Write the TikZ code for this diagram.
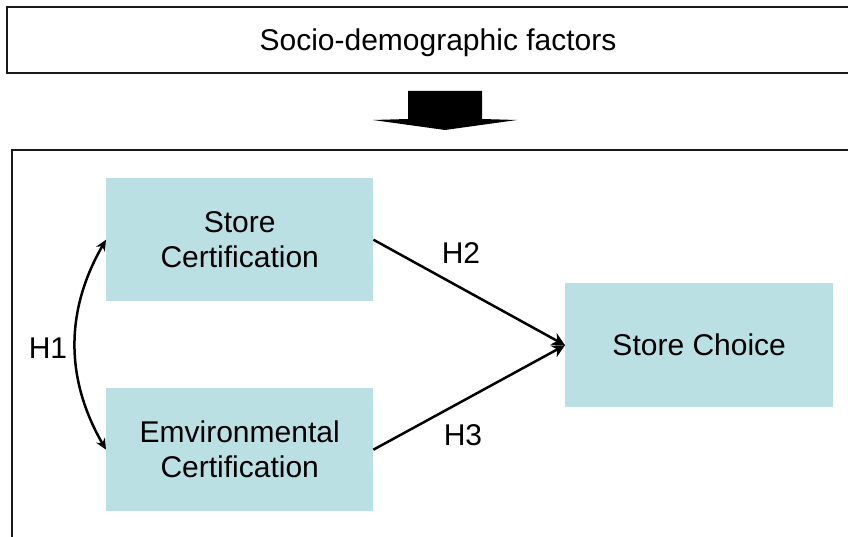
\documentclass[tikz,border=0pt]{standalone}
\usepackage{fontspec}
\setmainfont{Liberation Sans}
\usetikzlibrary{positioning,arrows.meta}
\definecolor{consc}{RGB}{187,224,227}
\tikzset{
  box/.style={draw=black!90, line width=2bp, inner sep=0pt, align=center, font=\fontsize{30bp}{36bp}\selectfont},
  cons/.style={fill=consc, inner sep=0pt, minimum width=267bp, minimum height=123bp, align=center, font=\fontsize{30bp}{35bp}\selectfont},
  flow/.style={-{Stealth[length=13bp, width=13bp]}, line width=2.5bp},
  both/.style={{Stealth[length=11bp, width=10bp]}-{Stealth[length=11bp, width=10bp]}, line width=2.5bp},
  hyp/.style={inner sep=0pt, font=\fontsize{30bp}{36bp}\selectfont}
}

\begin{document}
\begin{tikzpicture}[x=1bp, y=-1bp]
  \useasboundingbox (0,0) rectangle (848,537);

  \node[box, text depth=0pt, minimum width=862bp, minimum height=66bp, anchor=north west] (socio) at (6,6) {Socio-demographic factors};
  \node[box, minimum width=880bp, minimum height=420bp, anchor=north west] (frame) at (11,149) {};
  \fill[black] (408,91) -- (482,91) -- (482,119) -- (517,120) -- (445,130) -- (373,120) -- (408,119) -- cycle;

  \node[cons, anchor=north west] (storecert) at (106,178) {Store\\Certification};
  \node[cons, anchor=north west] (envcert) at (106,388) {Emvironmental\\Certification};
  \node[cons, minimum width=268bp, minimum height=124bp, anchor=north west] (choice) at (565,283) {Store Choice};

  \draw[flow] (storecert.east) -- (choice.west);
  \draw[flow] (envcert.east) -- (choice.west);
  \draw[both] (storecert.west) to[bend right=30] (envcert.west);

  \node[hyp] (h1) at (48,348) {H1};
  \node[hyp] (h2) at (461,253) {H2};
  \node[hyp] (h3) at (463,435) {H3};
\end{tikzpicture}
\end{document}
